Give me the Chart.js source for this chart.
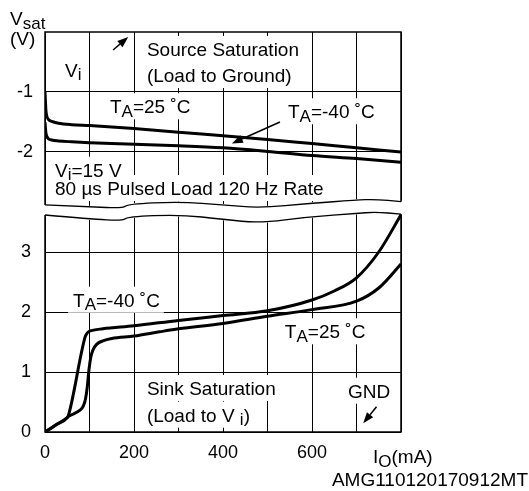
<!DOCTYPE html>
<html>
<head>
<meta charset="utf-8">
<script src="https://cdn.jsdelivr.net/npm/chart.js@4.4.1/dist/chart.umd.min.js"></script>
<style>
  html, body { margin: 0; padding: 0; background: #fff; }
</style>
</head>
<body>
<canvas id="chart" width="529" height="491"></canvas>
<script>
// upper panel: source saturation (load to ground), Vsat in V
const sourceCurrent = [0, 1, 2, 4, 8, 15, 30, 60, 100, 200, 300, 400, 500, 600, 700, 800];
const source25 = [-1.0, -1.15, -1.3, -1.4, -1.46, -1.49, -1.52, -1.545, -1.56, -1.61, -1.67, -1.73, -1.79, -1.86, -1.93, -2.0];
const sourceM40 = [-1.5, -1.6, -1.68, -1.74, -1.78, -1.8, -1.815, -1.83, -1.845, -1.87, -1.895, -1.93, -1.99, -2.06, -2.11, -2.17];

// lower panel: sink saturation (load to Vi)
const sinkM40Current = [0, 25, 50, 53, 90, 93, 97, 104, 130, 200, 300, 400, 500, 600, 650, 700, 750, 800];
const sinkM40 = [0, 0.12, 0.24, 0.285, 1.58, 1.63, 1.665, 1.69, 1.72, 1.77, 1.86, 1.94, 2.02, 2.2, 2.35, 2.57, 3.0, 3.62];
const sink25Current = [0, 25, 50, 53, 78, 86, 91, 95, 99, 103, 108, 116, 130, 150, 200, 257, 300, 400, 500, 600, 700, 750, 800];
const sink25 = [0, 0.12, 0.24, 0.26, 0.36, 0.43, 0.55, 0.75, 1.05, 1.25, 1.37, 1.46, 1.52, 1.56, 1.6, 1.67, 1.72, 1.81, 1.93, 2.04, 2.18, 2.4, 2.8];

// axes
const currentGrid = [0, 100, 200, 300, 400, 500, 600, 700, 800];
const currentLabels = [0, 200, 400, 600];
const sourceTicks = [-1, -2];
const sinkTicks = [0, 1, 2, 3];

// axis break (wavy lines), upper panel bottom edge / lower panel top edge
const breakCurrent = [0, 101, 175, 186, 303, 402, 483, 596, 699, 742, 800];
const breakTop = [-2.883, -2.912, -2.938, -2.867, -2.828, -2.883, -2.933, -2.858, -2.8, -2.788, -2.828];
const breakBottom = [3.617, 3.55, 3.522, 3.588, 3.625, 3.542, 3.483, 3.588, 3.642, 3.667, 3.633];

const FONT = '"Liberation Sans", Arial, Helvetica, sans-serif';
const TXT = 19, SUB = 17;

// annotations: [axis, mA, V, parts]   parts: [text, isSubscript]
const notes = [
  ['yTop', 45, -0.75, [['V'], ['i', 1]]],
  ['yTop', 229, -0.4, [['Source Saturation']]],
  ['yTop', 229, -0.833, [['(Load to Ground)']]],
  ['yTop', 146, -1.355, [['T'], ['A', 1], ['=25 ˚C']]],
  ['yTop', 546, -1.438, [['T'], ['A', 1], ['=-40 ˚C']]],
  ['yTop', 22.5, -2.412, [['V'], ['i', 1], ['=15 V']]],
  ['yTop', 22.5, -2.717, [['80 µs Pulsed Load 120 Hz Rate']]],
  ['yBot', 63, 2.088, [['T'], ['A', 1], ['=-40 ˚C']]],
  ['yBot', 539, 1.562, [['T'], ['A', 1], ['=25 ˚C']]],
  ['yBot', 229, 0.617, [['Sink Saturation']]],
  ['yBot', 229, 0.172, [['(Load to V '], ['i', 1], [')']]],
  ['yBot', 681, 0.572, [['GND']]]
];
// arrows: [axis, fromMA, fromV, toMA, toV]
const arrows = [
  ['yTop', 153, -0.3, 187, -0.083],
  ['yTop', 528, -1.5, 420, -1.858],
  ['yBot', 745, 0.422, 715, 0.145]
];

function richWidth(ctx, parts) {
  let w = 0;
  for (const [t, sub] of parts) {
    ctx.font = (sub ? SUB : TXT) + 'px ' + FONT;
    w += ctx.measureText(t).width;
  }
  return w;
}

function drawRich(ctx, x, y, parts) {
  ctx.textBaseline = 'alphabetic';
  ctx.textAlign = 'left';
  for (const [t, sub] of parts) {
    ctx.font = (sub ? SUB : TXT) + 'px ' + FONT;
    ctx.fillText(t, x, sub ? y + 3.5 : y);
    x += ctx.measureText(t).width;
  }
}

function smooth(ctx, pts, move) {
  if (move) ctx.moveTo(pts[0][0], pts[0][1]);
  else ctx.lineTo(pts[0][0], pts[0][1]);
  for (let i = 1; i < pts.length - 1; i++) {
    const mx = (pts[i][0] + pts[i + 1][0]) / 2;
    const my = (pts[i][1] + pts[i + 1][1]) / 2;
    ctx.quadraticCurveTo(pts[i][0], pts[i][1], mx, my);
  }
  const l = pts[pts.length - 1];
  ctx.lineTo(l[0], l[1]);
}

function arrow(ctx, x1, y1, x2, y2) {
  const ang = Math.atan2(y2 - y1, x2 - x1);
  const len = 11, half = 4;
  const bx = x2 - len * Math.cos(ang), by = y2 - len * Math.sin(ang);
  ctx.lineWidth = 1.5;
  ctx.beginPath();
  ctx.moveTo(x1, y1);
  ctx.lineTo(bx, by);
  ctx.stroke();
  ctx.beginPath();
  ctx.moveTo(x2, y2);
  ctx.lineTo(bx + half * Math.sin(ang), by - half * Math.cos(ang));
  ctx.lineTo(bx - half * Math.sin(ang), by + half * Math.cos(ang));
  ctx.closePath();
  ctx.fill();
}

const sheet = {
  id: 'sheet',
  beforeDatasetsDraw(chart) {
    const {ctx, chartArea: a, scales} = chart;
    const x = scales.x;
    const top = breakCurrent.map((c, i) => [x.getPixelForValue(c), scales.yTop.getPixelForValue(breakTop[i])]);
    const bot = breakCurrent.map((c, i) => [x.getPixelForValue(c), scales.yBot.getPixelForValue(breakBottom[i])]);
    ctx.save();
    // white gap between the break lines
    const t2 = top.map(p => p.slice()), b2 = bot.map(p => p.slice());
    t2[0][0] -= 3; b2[0][0] -= 3;
    t2[t2.length - 1][0] += 3; b2[b2.length - 1][0] += 3;
    ctx.fillStyle = '#fff';
    ctx.strokeStyle = '#fff';
    ctx.lineWidth = 2;
    ctx.beginPath();
    smooth(ctx, t2, true);
    smooth(ctx, b2.slice().reverse(), false);
    ctx.closePath();
    ctx.fill();
    ctx.stroke();

    // white boxes behind the annotations
    for (const [ax, c, v, parts] of notes) {
      const px = x.getPixelForValue(c), py = scales[ax].getPixelForValue(v);
      const w = richWidth(ctx, parts);
      ctx.fillRect(px - 5, py - 20, w + 9, 26);
    }

    // frame
    ctx.strokeStyle = '#000';
    ctx.lineWidth = 1.5;
    ctx.beginPath();
    ctx.moveTo(a.left, top[0][1]);
    ctx.lineTo(a.left, a.top);
    ctx.lineTo(a.right, a.top);
    ctx.lineTo(a.right, top[top.length - 1][1]);
    ctx.moveTo(a.left, bot[0][1]);
    ctx.lineTo(a.left, a.bottom);
    ctx.lineTo(a.right, a.bottom);
    ctx.lineTo(a.right, bot[bot.length - 1][1]);
    ctx.stroke();
    ctx.lineWidth = 1.3;
    ctx.beginPath();
    smooth(ctx, top, true);
    ctx.stroke();
    ctx.beginPath();
    smooth(ctx, bot, true);
    ctx.stroke();
    ctx.restore();
  },
  afterDatasetsDraw(chart) {
    const {ctx, scales} = chart;
    const x = scales.x;
    ctx.save();
    ctx.fillStyle = '#000';
    ctx.strokeStyle = '#000';
    for (const [ax, c, v, parts] of notes) {
      drawRich(ctx, x.getPixelForValue(c), scales[ax].getPixelForValue(v), parts);
    }
    for (const [ax, c1, v1, c2, v2] of arrows) {
      const s = scales[ax];
      arrow(ctx, x.getPixelForValue(c1), s.getPixelForValue(v1), x.getPixelForValue(c2), s.getPixelForValue(v2));
    }
    // axis titles and figure id
    const a = chart.chartArea;
    drawRich(ctx, 10, 25, [['V'], ['sat', 1]]);
    drawRich(ctx, 10, 45, [['(V)']]);
    drawRich(ctx, x.getPixelForValue(800) - 28, a.bottom + 31, [['I'], ['O', 1], ['(mA)']]);
    ctx.font = TXT + 'px ' + FONT;
    ctx.textAlign = 'right';
    ctx.fillText('AMG110120170912MT', 528, 486);
    ctx.restore();
  }
};

const tickFont = {family: FONT, size: 18};
const gridOpts = {color: '#000', lineWidth: 1, drawTicks: false};

new Chart(document.getElementById('chart'), {
  type: 'line',
  data: {
    datasets: [
      {label: 'Source TA=25', yAxisID: 'yTop', data: sourceCurrent.map((c, i) => ({x: c, y: source25[i]}))},
      {label: 'Source TA=-40', yAxisID: 'yTop', data: sourceCurrent.map((c, i) => ({x: c, y: sourceM40[i]}))},
      {label: 'Sink TA=-40', yAxisID: 'yBot', data: sinkM40Current.map((c, i) => ({x: c, y: sinkM40[i]}))},
      {label: 'Sink TA=25', yAxisID: 'yBot', data: sink25Current.map((c, i) => ({x: c, y: sink25[i]}))}
    ]
  },
  options: {
    responsive: false,
    animation: false,
    layout: {padding: {left: 17, top: 32, right: 128, bottom: 29}},
    plugins: {legend: {display: false}, tooltip: {enabled: false}},
    elements: {
      point: {radius: 0},
      line: {borderWidth: 3, borderColor: '#000', cubicInterpolationMode: 'monotone', fill: false}
    },
    scales: {
      x: {
        type: 'linear', min: 0, max: 800,
        afterBuildTicks: s => { s.ticks = currentGrid.map(v => ({value: v})); },
        afterFit: s => { s.height = 30; },
        ticks: {
          autoSkip: false, maxRotation: 0, padding: 10, color: '#000', font: tickFont,
          callback: v => currentLabels.includes(v) ? String(v) : ''
        },
        grid: gridOpts,
        border: {display: false}
      },
      yBot: {
        type: 'linear', position: 'left', stack: 'vsat', stackWeight: 3.697,
        min: 0, max: 3.697,
        afterBuildTicks: s => { s.ticks = sinkTicks.map(v => ({value: v})); },
        afterFit: s => { s.width = 28; },
        ticks: {padding: 14, color: '#000', font: tickFont, callback: v => String(v)},
        grid: gridOpts,
        border: {display: false}
      },
      yTop: {
        type: 'linear', position: 'left', stack: 'vsat', stackWeight: 2.97,
        min: -2.97, max: 0,
        afterBuildTicks: s => { s.ticks = sourceTicks.map(v => ({value: v})); },
        afterFit: s => { s.width = 28; },
        ticks: {padding: 12, color: '#000', font: tickFont, callback: v => String(v)},
        grid: gridOpts,
        border: {display: false}
      }
    }
  },
  plugins: [sheet]
});
</script>
</body>
</html>
